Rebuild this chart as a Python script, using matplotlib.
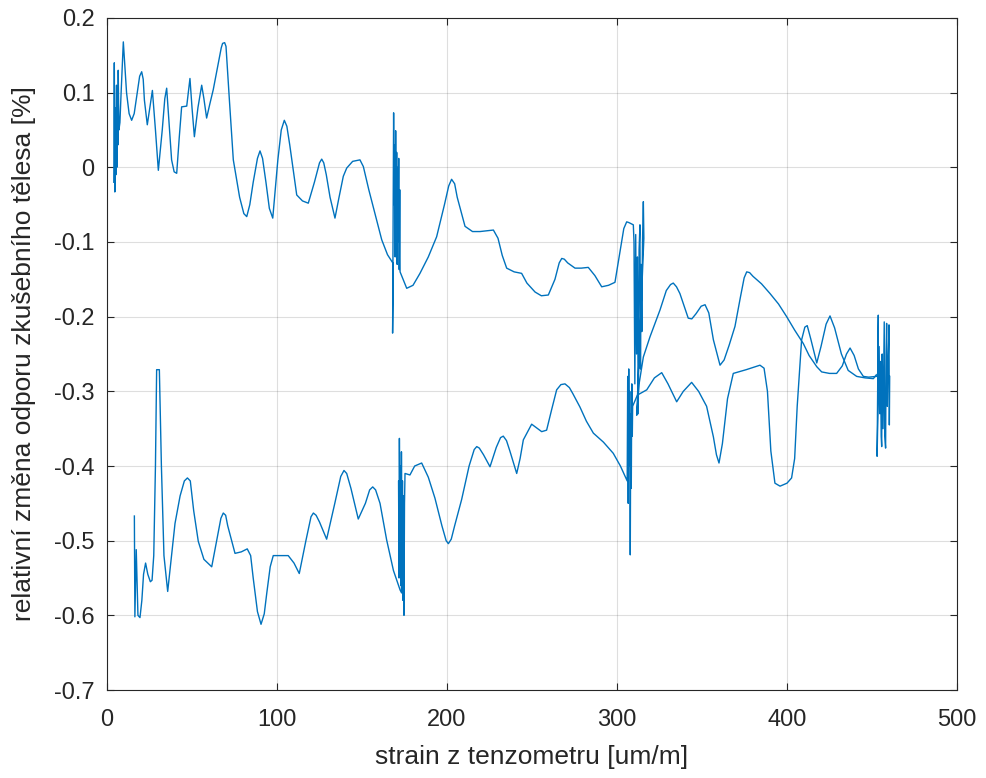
import matplotlib
matplotlib.use("Agg")
import matplotlib.pyplot as plt

# Upper branch (noise clusters at ~5, ~170, ~312, ~457)
upper_x = [4.0, 4.3, 4.6, 5.0, 5.2, 5.6, 5.8, 6.2, 6.4, 6.6, 7.0, 7.6, 8.3, 9.6, 11.5, 13.0, 14.5, 16.0,
           17.5, 19.2, 20.4, 21.3, 22.0, 23.7, 25.5, 26.7, 28.5, 30.2, 32.5, 34.0, 35.1, 36.5, 38.0,
           39.5, 41.0, 42.5, 43.9, 46.9, 48.8, 50.0, 51.4, 53.5, 55.7, 57.0, 58.6, 60.5, 62.5, 65.5,
           67.2, 68.0, 69.2, 70.0, 72.0, 74.3, 78.0, 80.5, 82.2, 84.0, 86.0, 88.5, 90.0, 91.5, 93.5,
           95.5, 97.5, 100.5, 102.5, 104.3, 105.8, 107.5, 111.6, 115.0, 118.4, 122.0, 125.0, 126.3,
           127.5, 129.0, 131.2, 134.1, 136.5, 139.0, 141.0, 144.5, 148.8, 150.8, 154.0, 158.0, 161.6,
           165.0, 168.4,
           168.0, 168.6, 168.9, 169.2, 169.5, 169.8, 170.1, 170.4, 170.7, 171.0, 171.3, 171.6, 171.9,
           172.2, 172.4,
           176.3, 180.0, 184.1, 189.0, 193.9, 198.5, 201.0, 202.7, 204.5, 206.0, 210.6, 215.0, 219.4,
           227.3, 230.0, 232.5, 235.1, 239.5, 243.9, 247.0, 251.8, 255.5, 259.6, 263.5, 266.0, 267.5,
           269.0, 271.0, 275.3, 279.0, 283.1, 287.0, 291.0, 295.0, 298.8, 302.0, 304.0, 305.7, 307.0,
           309.6,
           310.0, 310.5, 311.0, 311.5, 312.0, 312.5, 313.0, 313.5, 313.8, 314.2, 314.6, 315.0, 315.5,
           315.8, 311.6,
           313.0, 315.5, 319.4, 325.3, 329.0, 331.5, 333.1, 335.0, 337.0, 341.9, 344.0, 346.5, 349.5,
           351.8, 354.0, 356.7, 360.6, 363.0, 366.0, 369.4, 372.5, 374.8, 376.3, 378.0, 380.0, 385.0,
           390.0, 395.0, 399.8, 404.5, 409.6, 413.0, 417.5, 420.4, 425.0, 429.2, 432.5, 435.0, 437.1,
           439.5, 442.0, 444.9, 448.0, 452.7, 453.5,
           453.7, 453.0, 454.2, 454.6, 455.0, 455.4, 455.7, 456.0, 456.5, 457.2, 457.5, 458.0, 458.3,
           458.6, 459.0, 459.5, 460.0, 460.2, 460.4]
upper_y = [-0.020, 0.140, -0.033, 0.080, -0.010, 0.110, 0.000, 0.090, 0.030, 0.130, 0.050, 0.060, 0.100,
           0.168, 0.100, 0.072, 0.063, 0.072, 0.095, 0.122, 0.128, 0.118, 0.090, 0.057, 0.085, 0.103,
           0.050, -0.004, 0.050, 0.092, 0.106, 0.060, 0.010, -0.006, -0.008, 0.040, 0.081, 0.082,
           0.119, 0.080, 0.041, 0.080, 0.110, 0.092, 0.066, 0.085, 0.104, 0.140, 0.160, 0.166, 0.167,
           0.162, 0.090, 0.010, -0.040, -0.062, -0.066, -0.050, -0.020, 0.012, 0.022, 0.012, -0.020,
           -0.055, -0.068, 0.010, 0.050, 0.063, 0.055, 0.030, -0.037, -0.045, -0.048, -0.020, 0.006,
           0.011, 0.006, -0.010, -0.040, -0.068, -0.040, -0.012, -0.001, 0.008, 0.010, 0.001, -0.030,
           -0.065, -0.097, -0.117, -0.129,
           -0.222, 0.073, -0.050, 0.030, -0.120, 0.049, -0.080, 0.020, -0.130, 0.000, -0.100, 0.012,
           -0.137, -0.030, -0.140,
           -0.162, -0.158, -0.142, -0.120, -0.093, -0.050, -0.025, -0.016, -0.022, -0.040, -0.079,
           -0.086, -0.086, -0.084, -0.095, -0.118, -0.135, -0.140, -0.142, -0.155, -0.167, -0.172,
           -0.171, -0.150, -0.128, -0.122, -0.123, -0.128, -0.135, -0.135, -0.134, -0.145, -0.160,
           -0.158, -0.154, -0.110, -0.082, -0.073, -0.074, -0.077,
           -0.100, -0.290, -0.090, -0.250, -0.120, -0.330, -0.110, -0.077, -0.270, -0.130, -0.220,
           -0.100, -0.046, -0.095, -0.332,
           -0.290, -0.254, -0.227, -0.191, -0.165, -0.157, -0.155, -0.160, -0.169, -0.202, -0.203,
           -0.196, -0.186, -0.184, -0.195, -0.231, -0.265, -0.258, -0.238, -0.213, -0.175, -0.148,
           -0.140, -0.141, -0.146, -0.156, -0.169, -0.183, -0.200, -0.218, -0.236, -0.252, -0.267,
           -0.274, -0.276, -0.276, -0.266, -0.250, -0.242, -0.252, -0.270, -0.280, -0.281, -0.280,
           -0.275,
           -0.198, -0.387, -0.240, -0.330, -0.260, -0.360, -0.374, -0.250, -0.350, -0.207, -0.360,
           -0.376, -0.250, -0.209, -0.320, -0.260, -0.211, -0.345, -0.280]

# Lower branch (noise clusters at ~17, ~173, ~307)
lower_x = [16.1, 16.4, 17.2, 18.2, 19.4, 20.5, 21.5, 22.7, 24.0, 25.5, 26.5, 27.5, 28.5, 29.2, 30.8,
           32.0, 33.5, 35.7, 37.5, 40.0, 43.0, 45.5, 47.3, 49.0, 51.0, 53.7, 57.0, 61.6, 64.5, 67.0,
           68.4, 69.8, 71.0, 75.3, 79.0, 82.5, 84.5, 86.0, 88.5, 90.6, 92.5, 94.0, 96.0, 97.8, 102.0,
           106.6, 110.0, 113.1, 117.0, 120.0, 121.4, 123.0, 125.0, 129.2, 134.0, 137.5, 139.4, 141.0,
           143.5, 147.8, 152.0, 154.5, 156.3, 158.0, 160.6, 164.5, 168.5, 172.4, 173.3,
           171.5, 171.8, 172.0, 172.3, 172.6, 172.9, 173.2, 173.5, 173.8, 174.1, 174.4, 174.7, 175.0,
           175.3, 178.2, 181.0, 185.1, 189.0, 192.9, 197.0, 199.5, 200.8, 202.5, 204.5, 208.6, 213.0,
           216.0, 217.5, 219.0, 221.5, 225.3, 229.0, 231.5, 233.1, 235.0, 237.0, 241.0, 243.0, 244.9,
           249.8, 255.7, 258.6, 261.5, 264.5, 267.0, 269.4, 272.0, 274.0, 278.2, 282.0, 286.1, 292.0,
           297.8, 302.0, 306.0,
           306.3, 306.6, 306.9, 307.2, 307.5, 307.8, 308.1, 308.4, 308.7, 309.0, 309.2,
           312.0, 317.5, 322.0, 326.3, 330.0, 335.1, 339.0, 343.9, 348.0, 352.7, 356.7, 358.5, 360.0,
           362.0, 365.0, 368.4, 376.0, 384.1, 386.5, 388.5, 390.5, 392.9, 395.9, 400.0, 402.7, 404.5,
           406.0, 408.6, 410.5, 411.9, 414.0, 417.5, 420.0, 423.0, 425.3, 428.0, 432.0, 436.0, 441.0,
           446.0, 450.8, 452.5]
lower_y = [-0.467, -0.602, -0.512, -0.600, -0.603, -0.580, -0.545, -0.530, -0.545, -0.555, -0.553,
           -0.520, -0.400, -0.271, -0.271, -0.400, -0.520, -0.568, -0.530, -0.477, -0.440, -0.420,
           -0.416, -0.420, -0.460, -0.501, -0.525, -0.535, -0.500, -0.470, -0.463, -0.466, -0.480,
           -0.517, -0.515, -0.511, -0.520, -0.550, -0.595, -0.612, -0.598, -0.570, -0.535, -0.520,
           -0.520, -0.520, -0.530, -0.544, -0.500, -0.468, -0.463, -0.466, -0.475, -0.498, -0.450,
           -0.414, -0.406, -0.410, -0.430, -0.471, -0.450, -0.432, -0.428, -0.432, -0.450, -0.499,
           -0.540, -0.566, -0.570,
           -0.420, -0.550, -0.363, -0.500, -0.400, -0.560, -0.381, -0.520, -0.420, -0.580, -0.440,
           -0.600, -0.450, -0.410, -0.412, -0.400, -0.396, -0.415, -0.443, -0.480, -0.500, -0.504,
           -0.498, -0.480, -0.445, -0.400, -0.378, -0.374, -0.376, -0.385, -0.401, -0.375, -0.362,
           -0.360, -0.366, -0.380, -0.410, -0.390, -0.365, -0.344, -0.354, -0.352, -0.325, -0.298,
           -0.291, -0.290, -0.295, -0.303, -0.321, -0.340, -0.356, -0.368, -0.383, -0.400, -0.420,
           -0.280, -0.450, -0.270, -0.400, -0.300, -0.519, -0.330, -0.430, -0.290, -0.360, -0.320,
           -0.305, -0.298, -0.282, -0.275, -0.290, -0.314, -0.300, -0.288, -0.300, -0.320, -0.361,
           -0.385, -0.396, -0.370, -0.310, -0.276, -0.271, -0.265, -0.269, -0.300, -0.380, -0.423,
           -0.427, -0.423, -0.416, -0.390, -0.320, -0.231, -0.214, -0.212, -0.230, -0.262, -0.240,
           -0.210, -0.199, -0.215, -0.250, -0.272, -0.280, -0.282, -0.283, -0.278]

x_ticks = [0, 100, 200, 300, 400, 500]
y_ticks = [0.2, 0.1, 0, -0.1, -0.2, -0.3, -0.4, -0.5, -0.6, -0.7]
y_tick_labels = ["0.2", "0.1", "0", "-0.1", "-0.2", "-0.3", "-0.4", "-0.5", "-0.6", "-0.7"]

plt.rcParams['font.family'] = ['Liberation Sans', 'DejaVu Sans']
fig = plt.figure(figsize=(9.87, 7.78), dpi=100)
ax = fig.add_axes([107/987, 1-690/778, 850/987, 672/778])
line_color = '#0072BD'
ax.plot(upper_x, upper_y, color=line_color, lw=1.0)
ax.plot(lower_x, lower_y, color=line_color, lw=1.0)

ax.set_xlim(0, 500)
ax.set_ylim(-0.7, 0.2)
ax.set_xticks(x_ticks)
ax.set_yticks(y_ticks)
ax.set_yticklabels(y_tick_labels)
ax.grid(True, color='#262626', alpha=0.15, lw=0.8)
ax.set_axisbelow(True)
dark = '#262626'
for s in ax.spines.values():
    s.set_color(dark)
    s.set_linewidth(0.8)
ax.tick_params(direction='in', length=5, width=0.8, colors=dark, labelsize=17,
               top=True, right=True)
ax.tick_params(axis='x', pad=14)
ax.tick_params(axis='y', pad=9)
ax.set_xlabel('strain z tenzometru [um/m]', fontsize=19, color=dark)
ax.set_ylabel('relativní změna odporu zkušebního tělesa [%]', fontsize=19, color=dark)
ax.xaxis.set_label_coords(0.5, -0.082)
ax.yaxis.set_label_coords(-0.084, 0.5)

fig.savefig('out.png', dpi=100)
